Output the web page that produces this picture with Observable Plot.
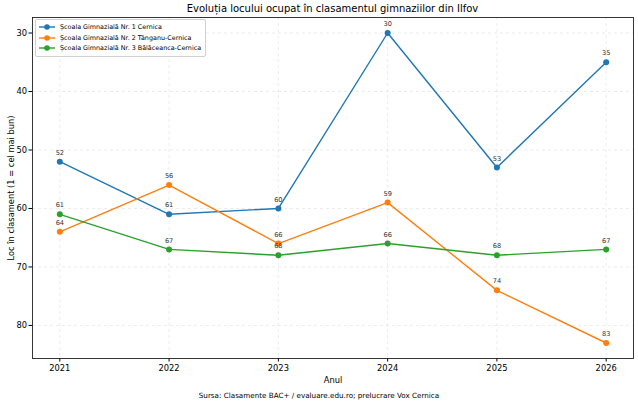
<!DOCTYPE html>
<html>
<head>
<meta charset="utf-8">
<script src="https://cdn.jsdelivr.net/npm/d3@7"></script>
<script src="https://cdn.jsdelivr.net/npm/@observablehq/plot@0.6"></script>
<style>
  html, body { margin: 0; padding: 0; background: #fff; }
  #wrap { position: relative; width: 638px; height: 406px; font-family: "DejaVu Sans", sans-serif; color: #000; }
  #title { position: absolute; top: 3px; left: 32px; width: 601px; text-align: center; font-size: 10px; }
  #caption { position: absolute; top: 391px; left: 0; width: 638px; text-align: center; font-size: 7.2px; }
  #legend { position: absolute; left: 35px; top: 19px; padding: 2px 4px 2px 3px; border: 1px solid #d0d0d0; border-radius: 2px; background: rgba(255,255,255,0.85); font-size: 6.4px; }
  #legend .row { display: flex; align-items: center; height: 10.5px; }
  #legend svg { margin-right: 5px; }
</style>
</head>
<body>
<div id="wrap">
  <div id="chart"></div>
  <div id="title">Evoluția locului ocupat în clasamentul gimnaziilor din Ilfov</div>
  <div id="legend"></div>
  <div id="caption">Sursa: Clasamente BAC+ / evaluare.edu.ro; prelucrare Vox Cernica</div>
</div>
<script>
// Years on the x axis
const years = [2021, 2022, 2023, 2024, 2025, 2026];

// School names (legend) and colours
const schools = [
  "Școala Gimnazială Nr. 1 Cernica",
  "Școala Gimnazială Nr. 2 Tânganu-Cernica",
  "Școala Gimnazială Nr. 3 Bălăceanca-Cernica"
];
const colors = ["#1f77b4", "#ff7f0e", "#2ca02c"];

// Rank in the county ranking, per school and year
const rankNr1 = [52, 61, 60, 30, 53, 35];
const rankNr2 = [64, 56, 66, 59, 74, 83];
const rankNr3 = [61, 67, 68, 66, 68, 67];

const yTicks = [30, 40, 50, 60, 70, 80];

const series = [rankNr1, rankNr2, rankNr3];
const rows = series.flatMap((vals, i) =>
  vals.map((v, j) => ({ school: schools[i], year: years[j], rank: v }))
);

const chart = Plot.plot({
  width: 638,
  height: 406,
  marginTop: 17,
  marginBottom: 48,
  marginLeft: 32,
  marginRight: 5,
  style: { fontFamily: "DejaVu Sans, sans-serif", fontSize: "8.5px", color: "#000", background: "transparent" },
  x: { domain: [2020.75, 2026.25] },
  y: { domain: [27.35, 85.65], reverse: true },
  color: { domain: schools, range: colors },
  marks: [
    Plot.gridX(years, { stroke: "#b0b0b0", strokeOpacity: 0.35, strokeDasharray: "3,3", strokeWidth: 0.7 }),
    Plot.gridY(yTicks, { stroke: "#b0b0b0", strokeOpacity: 0.35, strokeDasharray: "3,3", strokeWidth: 0.7 }),
    Plot.axisX(years, { tickFormat: "d", tickSize: 3.5, tickPadding: 3, label: "Anul", labelAnchor: "center", labelArrow: "none", labelOffset: 24, fontSize: 8.3 }),
    Plot.axisY(yTicks, { tickSize: 3.5, tickPadding: 2, label: "Loc în clasament (1 = cel mai bun)", labelAnchor: "center", labelArrow: "none", labelOffset: 24, fontSize: 8.3 }),
    Plot.frame({ stroke: "#222", strokeWidth: 0.9 }),
    Plot.line(rows, { x: "year", y: "rank", z: "school", stroke: "school", strokeWidth: 1.4 }),
    Plot.dot(rows, { x: "year", y: "rank", fill: "school", r: 3 }),
    Plot.text(rows, { x: "year", y: "rank", text: d => String(d.rank), dy: -9, fontSize: 6.6, fill: "#333" })
  ]
});
document.getElementById("chart").appendChild(chart);

// Legend entries built from the same series list
const legend = document.getElementById("legend");
schools.forEach((name, i) => {
  const row = document.createElement("div");
  row.className = "row";
  row.innerHTML = `<svg width="16" height="8"><line x1="0" y1="4" x2="16" y2="4" stroke="${colors[i]}" stroke-width="1.4"/><circle cx="8" cy="4" r="2.8" fill="${colors[i]}"/></svg><span>${name}</span>`;
  legend.appendChild(row);
});
</script>
</body>
</html>
